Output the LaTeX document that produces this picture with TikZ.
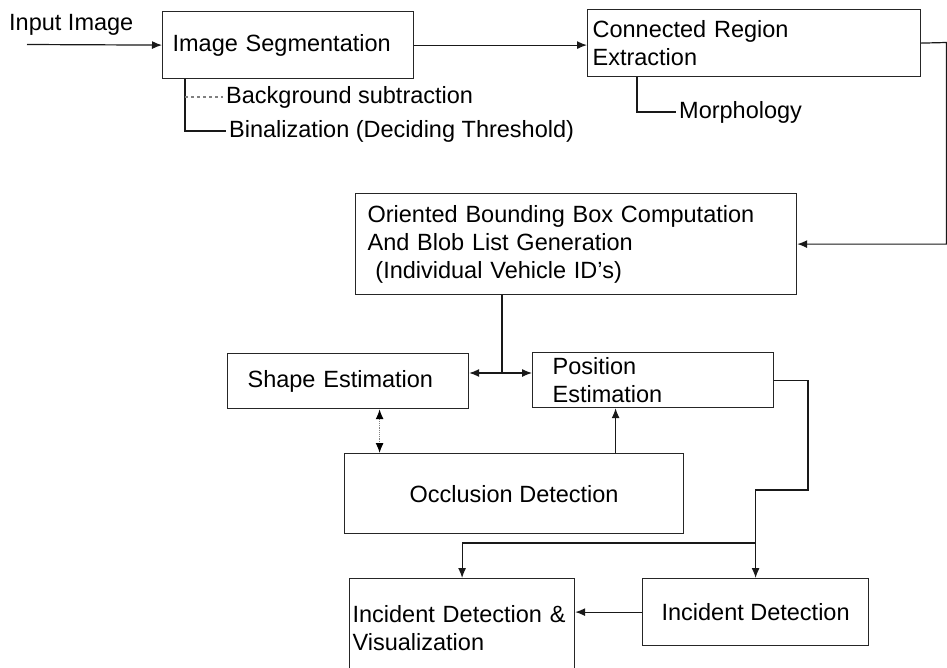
\documentclass[tikz,border=0pt]{standalone}
\usepackage{fontspec}
\setmainfont{Liberation Sans}
\usetikzlibrary{arrows.meta, positioning, calc}
\tikzset{
    blk/.style={draw=black!85, line width=1.2pt, anchor=north west, align=left, inner ysep=0pt},
    lbl/.style={anchor=west, inner sep=3pt},
    lnk/.style={line width=1.2pt, black!90},
    arr/.style={lnk, -{Latex[length=10pt,width=8pt]}},
    dotarr/.style={line width=1.2pt, gray, densely dotted,
        {Latex[length=10pt,width=8pt,color=black]}-{Latex[length=10pt,width=8pt,color=black]}}
}

\begin{document}
\begin{tikzpicture}[x=1pt, y=-1pt, font=\fontsize{23.5}{28}\selectfont]
    \clip (0,0) rectangle (947,667);
    % top row
    \node[lbl] (inp) at (6,25) {Input Image};
    \coordinate (start) at (27,44.5);
    \node[blk, minimum height=67pt, text width=231pt, inner xsep=10pt] (seg) at (162,11) {Image Segmentation};
    \node[blk, minimum height=67pt, text width=323pt, inner xsep=5pt] (conn) at (587,9) {Connected Region\\Extraction};
    \node[lbl] (bg) at (223,97) {Background subtraction};
    \node[lbl] (bin) at (226,131) {Binalization (Deciding Threshold)};
    \node[lbl] (morph) at (676,112) {Morphology};
    % middle
    \node[blk, minimum height=101pt, text width=417pt, inner xsep=12pt] (obb) at (355,193)
        {Oriented Bounding Box Computation\\And Blob List Generation\\\ (Individual Vehicle ID's)};
    \node[blk, minimum height=55pt, text width=201pt, inner xsep=20pt] (shape) at (227,353) {Shape Estimation};
    \node[blk, minimum height=55pt, text width=201pt, inner xsep=20pt] (pos) at (532,352) {Position\\Estimation};
    \node[blk, minimum width=339pt, minimum height=80pt, align=center] (occ) at (344,453) {Occlusion Detection};
    % bottom
    \node[blk, minimum height=99pt, text width=219pt, inner xsep=3pt] (viz) at (349,578) {Incident Detection \&\\Visualization};
    \node[blk, minimum width=226pt, minimum height=67pt, align=center] (inc) at (642,578) {Incident Detection};

    \coordinate (rt) at (946.5,42.5);
    \coordinate (split) at (502,373);
    \coordinate (turn) at (808,490);
    \coordinate (fork) at (755,543);

    \draw[arr] (start) -- (seg.west);
    \draw[arr] (seg.east) -- (seg.east -| conn.west);
    \draw[arr] (conn.east) -- (rt) |- (obb.east);
    \draw[lnk] ([xshift=23pt]seg.south west) |- (bin.west);
    \draw[lnk, gray, dashed] ([xshift=23pt]seg.south west |- bg.west) -- (bg.west);
    \draw[lnk] ([xshift=50pt]conn.south west) |- (morph.west);
    \draw[lnk] (obb.south -| split) -- (split);
    \draw[arr] (split) -- (split -| shape.east);
    \draw[arr] (split) -- (split -| pos.west);
    \draw[dotarr] ([xshift=31.5pt]shape.south) -- ([xshift=31.5pt]shape.south |- occ.north);
    \draw[arr] ([xshift=101.5pt]occ.north) -- ([xshift=101.5pt]occ.north |- pos.south);
    \draw[arr] (pos.east) -| (turn) -| (inc.north);
    \draw[arr] (fork) -| (viz.north);
    \draw[arr] (inc.west) -- (inc.west -| viz.east);
\end{tikzpicture}
\end{document}
